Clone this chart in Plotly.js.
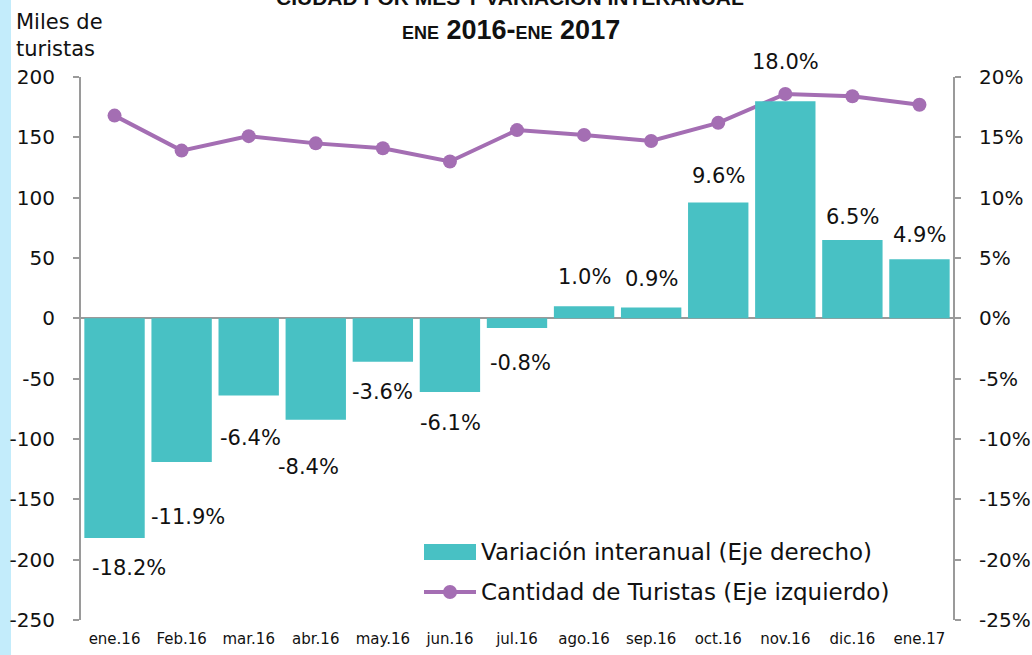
<!DOCTYPE html>
<html><head><meta charset="utf-8">
<script src="https://cdn.plot.ly/plotly-3.0.1.min.js"></script>
<style>html,body{margin:0;padding:0;background:#fff}#chart{width:1032px;height:655px}</style>
</head><body><div id="chart"></div>
<script>
const months = ['ene.16','Feb.16','mar.16','abr.16','may.16','jun.16','jul.16','ago.16','sep.16','oct.16','nov.16','dic.16','ene.17'];
const variacion = [-18.2,-11.9,-6.4,-8.4,-3.6,-6.1,-0.8,1.0,0.9,9.6,18.0,6.5,4.9];
const turistas = [168,139,151,145,141,130,156,152,147,162,186,184,177];
const leftTicks = [-250,-200,-150,-100,-50,0,50,100,150,200];
const rightTicks = [-25,-20,-15,-10,-5,0,5,10,15,20];
const legendNames = ['Variación interanual (Eje derecho)','Cantidad de Turistas (Eje izquierdo)'];

const FONT = 'DejaVu Sans, Open Sans, sans-serif';
const TFONT = 'Liberation Sans Narrow, Liberation Sans, Arial';
const teal = '#48C1C4', purple = '#A46EB3', grey = '#9a9a9a';
const W = 872, H = 543; // plot area in px

// label placement tweaks (pixels) relative to bar end
const lblDx = [14,6,2,-7,0,1,3,0,0,0,0,0,0];
const lblDy = [-30,-55,-42,-47,-30,-31,-35,29,28,26,39,23,24];

const annotations = variacion.map((v,i)=>({
  x: months[i], y: v, xref:'x', yref:'y2', text: v.toFixed(1)+'%',
  showarrow:false, xshift:lblDx[i], yshift:lblDy[i],
  font:{family:FONT,size:21,color:'#111'}
}));
annotations.push({xref:'paper',yref:'paper',x:-67/W,y:1.0,xanchor:'left',yanchor:'bottom',align:'left',
  text:'Miles de<br>turistas',showarrow:false,yshift:14,font:{family:FONT,size:21,color:'#111'}});
annotations.push({xref:'paper',yref:'paper',x:(510-81)/W,y:1,yanchor:'middle',xanchor:'center',yshift:80,
  text:'<b>CIUDAD POR MES Y VARIACIÓN INTERANUAL</b>',showarrow:false,
  font:{family:TFONT,size:21,color:'#111'}});
annotations.push({xref:'paper',yref:'paper',x:(511-81)/W,y:1,yanchor:'middle',xanchor:'center',yshift:47,
  text:'<b><span style="font-size:18px">ENE</span> 2016-<span style="font-size:18px">ENE</span> 2017</b>',showarrow:false,
  font:{family:TFONT,size:27,color:'#111'}});
// custom legend texts
annotations.push({xref:'paper',yref:'paper',x:(479-81)/W,y:(620-552)/H,xanchor:'left',yanchor:'middle',
  text:legendNames[0],showarrow:false,font:{family:FONT,size:23,color:'#111'}});
annotations.push({xref:'paper',yref:'paper',x:(479-81)/W,y:(620-592)/H,xanchor:'left',yanchor:'middle',
  text:legendNames[1],showarrow:false,font:{family:FONT,size:23,color:'#111'}});

const data = [
  {type:'bar', x:months, y:variacion, yaxis:'y2', name:legendNames[0],
   marker:{color:teal}, hoverinfo:'skip'},
  {type:'scatter', mode:'lines+markers', x:months, y:turistas, yaxis:'y', name:legendNames[1],
   line:{color:purple,width:4}, marker:{color:purple,size:14}}
];

const px = v => (v-81)/W, py = v => (620-v)/H;
const layout = {
  width:1032, height:655,
  margin:{l:81,r:79,t:77,b:35},
  paper_bgcolor:'#fff', plot_bgcolor:'#fff',
  bargap:0.1,
  showlegend:false,
  font:{family:FONT,color:'#111'},
  xaxis:{type:'category',range:[-0.5,12.5],showgrid:false,showline:false,zeroline:false,ticks:'',
    tickfont:{family:FONT,size:15,color:'#111'},ticklabelstandoff:8},
  yaxis:{range:[-250,200],tickvals:leftTicks,ticktext:leftTicks.map(t=>String(t)),showgrid:false,zeroline:true,zerolinecolor:grey,zerolinewidth:2,
    showline:true,linecolor:grey,linewidth:2,ticks:'outside',ticklen:6,tickcolor:grey,tickwidth:2,
    tickfont:{family:FONT,size:20,color:'#111'},ticklabelstandoff:14},
  yaxis2:{range:[-25,20],tickvals:rightTicks,ticktext:rightTicks.map(t=>t+'%'),overlaying:'y',side:'right',
    showgrid:false,zeroline:false,showline:true,linecolor:grey,linewidth:2,ticks:'outside',ticklen:6,
    tickcolor:grey,tickwidth:2,tickfont:{family:FONT,size:20,color:'#111'},ticklabelstandoff:14},
  shapes:[
    {type:'rect',xref:'paper',yref:'paper',x0:-81/W,x1:-70/W,y0:-1,y1:2,fillcolor:'#C3ECFB',line:{width:0},layer:'below'},
    {type:'rect',xref:'paper',yref:'paper',x0:px(424),x1:px(476),y0:py(560),y1:py(544),fillcolor:teal,line:{width:0}},
    {type:'line',xref:'paper',yref:'paper',x0:px(424),x1:px(476),y0:py(592),y1:py(592),line:{color:purple,width:4}},
    {type:'circle',xref:'paper',yref:'paper',x0:px(443),x1:px(457),y0:py(599),y1:py(585),fillcolor:purple,line:{width:0}}
  ],
  annotations:annotations
};
Plotly.newPlot('chart',data,layout,{displayModeBar:false,staticPlot:true});
</script></body></html>
